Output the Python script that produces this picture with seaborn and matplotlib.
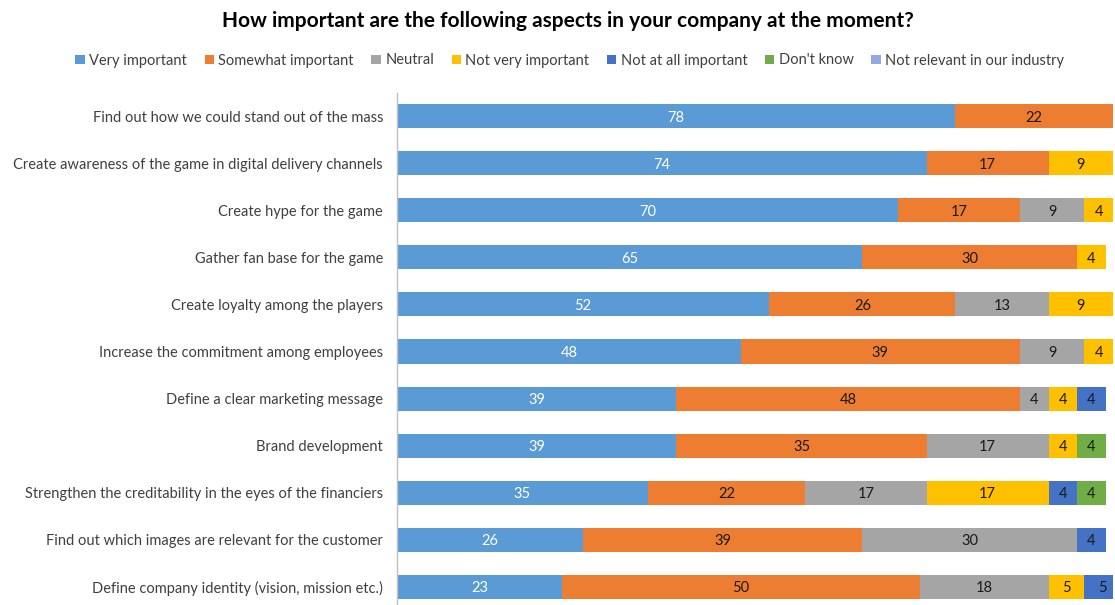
import numpy as np
import pandas as pd
import matplotlib
matplotlib.use("Agg")
import matplotlib.pyplot as plt
from matplotlib.patches import Patch
import seaborn as sns

aspects = [
    "Find out how we could stand out of the mass",
    "Create awareness of the game in digital delivery channels",
    "Create hype for the game",
    "Gather fan base for the game",
    "Create loyalty among the players",
    "Increase the commitment among employees",
    "Define a clear marketing message",
    "Brand development",
    "Strengthen the creditability in the eyes of the financiers",
    "Find out which images are relevant for the customer",
    "Define company identity (vision, mission etc.)",
]
responses = ["Very important", "Somewhat important", "Neutral", "Not very important",
             "Not at all important", "Don't know", "Not relevant in our industry"]

very_important = [78, 74, 70, 65, 52, 48, 39, 39, 35, 26, 23]
somewhat_important = [22, 17, 17, 30, 26, 39, 48, 35, 22, 39, 50]
neutral = [0, 0, 9, 0, 13, 9, 4, 17, 17, 30, 18]
not_very_important = [0, 9, 4, 4, 9, 4, 4, 4, 17, 0, 5]
not_at_all_important = [0, 0, 0, 0, 0, 0, 4, 0, 4, 4, 5]
dont_know = [0, 0, 0, 0, 0, 0, 0, 4, 4, 0, 0]
not_relevant = [0, 0, 0, 0, 0, 0, 0, 0, 0, 0, 0]

colors = ["#5B9BD5", "#ED7D31", "#A5A5A5", "#FFC000", "#4472C4", "#70AD47", "#8FAADC"]
label_colors = ["white", "#1a1a1a", "#1a1a1a", "#1a1a1a", "#1a1a1a", "#1a1a1a", "#1a1a1a"]

series = [very_important, somewhat_important, neutral, not_very_important,
          not_at_all_important, dont_know, not_relevant]
df = pd.DataFrame({r: s for r, s in zip(responses, series)})
df.insert(0, "aspect", aspects)
cum = df[responses].cumsum(axis=1)

sns.set_theme(style="white")
plt.rcParams["font.family"] = ["Lato", "DejaVu Sans"]

fig = plt.figure(figsize=(11.15, 6.05), dpi=100)
ax = fig.add_axes([397 / 1115, -0.009, (1113 - 397) / 1115, 0.856])

# Stacked bars: draw cumulative totals from the outermost segment inwards
for i in range(len(responses) - 1, -1, -1):
    plot_df = pd.DataFrame({"aspect": aspects, "value": cum[responses[i]]})
    sns.barplot(data=plot_df, y="aspect", x="value", order=aspects, color=colors[i],
                saturation=1, width=0.51, ax=ax, orient="h", linewidth=0)

# Segment value labels
for i, r in enumerate(responses):
    for j in range(len(aspects)):
        v = df[r].iloc[j]
        if v > 0:
            x = cum[r].iloc[j] - v / 2
            ax.text(x, j + 0.03, f"{v}", ha="center", va="center", fontsize=10.5,
                    color=label_colors[i])

ax.set_xlim(0, 100)
ax.set_ylim(len(aspects) - 0.5, -0.5)
ax.set_xlabel("")
ax.set_ylabel("")
ax.set_xticks([])
ax.tick_params(axis="y", length=0, pad=10, labelsize=10.5, labelcolor="#404040")
for side in ["top", "right", "bottom"]:
    ax.spines[side].set_visible(False)
ax.spines["left"].set_color("#BFBFBF")
ax.spines["left"].set_linewidth(1)

fig.text(0.509, 0.965, "How important are the following aspects in your company at the moment?",
         ha="center", va="center", fontsize=15, fontweight="bold", color="black")

handles = [Patch(facecolor=c, edgecolor="none", label=r) for c, r in zip(colors, responses)]
fig.legend(handles=handles, loc="center", bbox_to_anchor=(0.511, 0.9), ncol=7,
           frameon=False, fontsize=10.5, handlelength=0.65, handleheight=0.65,
           handletextpad=0.3, columnspacing=1.2, labelcolor="#404040")

fig.savefig("out.png", dpi=100)
